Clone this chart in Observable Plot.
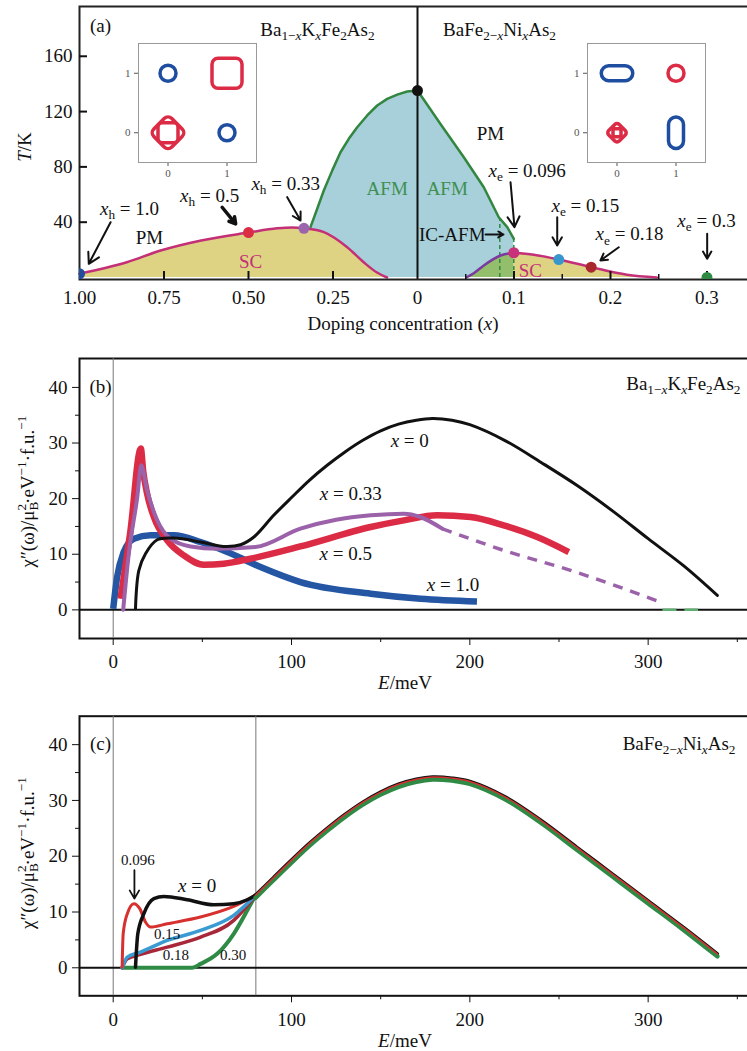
<!DOCTYPE html>
<html><head><meta charset="utf-8">
<script src="https://cdn.jsdelivr.net/npm/d3@7"></script>
<script src="https://cdn.jsdelivr.net/npm/@observablehq/plot@0.6"></script>
<style>
html,body{margin:0;padding:0;background:#fff;overflow:hidden;}
#wrap{position:relative;width:747px;height:1051px;}
</style></head><body><div id="wrap"></div>
<script>
// ---------------- Panel (a): phase diagram (hole side plotted at u = -x_h, electron side at u = x_e)
const xTicksA = [-1, -0.75, -0.5, -0.25, 0, 0.1, 0.2, 0.3];
const xTickLabelsA = ["1.00", "0.75", "0.50", "0.25", "0", "0.1", "0.2", "0.3"];
const xMajorTickMarksA = [-0.75, -0.5, -0.25, 0.1, 0.2, 0.3];
const xMinorTickMarksA = [0.05, 0.15, 0.25];
const yTicksA = [40, 80, 120, 160];

// SC dome, hole doped (x_h, T)
const scHoleX = [1.0, 0.86, 0.76, 0.64, 0.5, 0.415, 0.37, 0.336, 0.277, 0.208, 0.159, 0.12, 0.09];
const scHoleT = [2.7, 11, 19.5, 26.8, 32.5, 35.6, 36.2, 35.6, 32.8, 21.9, 11, 3.6, 0];
// AFM boundary (u, T)
const afmU = [-0.3166, -0.2967, -0.2772, -0.2524, -0.2278, -0.2033, -0.1784, -0.1488, -0.1192, -0.0896, -0.06, -0.0305, 0, 0.0238, 0.048, 0.0687, 0.0842, 0.093, 0.0998];
const afmT = [36.4, 49.7, 62.9, 77.3, 90.6, 100.3, 108.7, 117.2, 124.4, 129.2, 132.3, 134.5, 135.2, 111, 87, 65.3, 43.6, 36.4, 28];
// SC dome, electron doped (x_e, T)
const scElecX = [0.0505, 0.0583, 0.0687, 0.086, 0.0998, 0.1205, 0.1464, 0.18, 0.217, 0.248];
const scElecT = [0, 3.1, 8.7, 15.9, 17.9, 16.4, 13, 7.5, 2, 0];
// incommensurate AFM boundaries (x_e, T at top)
const icAfmX = [0.0853, 0.0998];
const icAfmTop = [42, 28];
// marked doping levels (u, T)
const dotU = [-1.0, -0.5, -0.336, 0, 0.0998, 0.1464, 0.18, 0.3];
const dotT = [2.7, 32.5, 35.6, 135.2, 17.9, 13, 7.5, 0];
const dotPalette = ["#1f4e9c", "#dc2b45", "#9b64ad", "#111111", "#c8327a", "#3796cc", "#a8282e", "#2f8a44"];

// ---------------- Panel (b): Ba1-xKxFe2As2 chi''(E)
const bBlackE = [12.5, 14.4, 18.1, 24.7, 34, 49, 62, 71.4, 78.9, 90, 100, 110, 120, 130, 140, 150, 160, 170, 179, 190, 200, 220, 240, 260, 280, 300, 320, 338.8];
const bBlackChi = [0.2, 7.1, 10.1, 12.6, 12.9, 12.2, 11.4, 11.7, 13.1, 17.0, 20.2, 23.3, 26.0, 28.4, 30.5, 32.2, 33.4, 34.1, 34.4, 34.1, 33.3, 30.4, 26.5, 22.4, 17.8, 12.8, 7.9, 2.6];
const bRedE = [4.1, 9.7, 15.5, 16.8, 19, 22.8, 30.3, 39.6, 50.8, 62, 77, 105, 144.4, 163, 181.7, 200.4, 219, 237.8, 255.5];
const bRedChi = [2, 14.3, 29, 25, 20.9, 16.7, 12.5, 9.8, 8.1, 8.3, 9.2, 11.4, 14.9, 16.1, 17, 16.7, 15.2, 13.1, 10.4];
const bPurpleE = [5.6, 8.7, 13.5, 15.7, 19, 24.7, 32.1, 43.4, 58.3, 79.8, 105, 125, 144.4, 163, 172.3, 184.5];
const bPurpleChi = [0, 10, 20.3, 26, 21.5, 16.1, 12.8, 11.4, 11, 11.3, 14.6, 16.2, 17, 17.3, 16.7, 14.6];
const bPurpleDashE = [184.5, 219, 256.5, 307];
const bPurpleDashChi = [14.6, 10.7, 7.1, 1.4];
const bBlueE = [0, 2.2, 5.9, 11.6, 20.9, 34, 49, 64, 82.6, 105, 144.4, 172.3, 204];
const bBlueChi = [0.2, 5.9, 10.4, 12.8, 13.4, 13.4, 12.2, 10.4, 7.7, 5, 2.9, 2, 1.5];
const bGreenTailE = [308, 328];
const bGreenTailChi = [0, 0];

// ---------------- Panel (c): BaFe2-xNixAs2 chi''(E)
const cCommonE = [79.8, 90, 100, 110, 120, 130, 140, 150, 160, 170, 179, 190, 200, 220, 240, 260, 280, 300, 320, 338.8];
const cCommonChi = [13, 16.2, 19.3, 22.3, 25.0, 27.5, 29.7, 31.5, 32.9, 33.8, 34.2, 34.0, 33.4, 30.6, 26.4, 21.6, 16.8, 12.0, 7.2, 2.5];
const cX0E = [12.5, 13.8, 17.2, 22.8, 28.4, 41.5, 56.4, 67.6, 75.2, 79.8];
const cX0Chi = [0.1, 6.1, 9.7, 12.4, 12.8, 12.2, 11.3, 11.5, 12.2, 13];
const c096E = [5, 5.6, 7.9, 11.6, 14.9, 18.1, 20.9, 30.3, 49, 67.6, 79.8];
const c096Chi = [0.1, 6.1, 9.7, 11.5, 10.6, 8.2, 7.3, 7.9, 9.1, 11, 13];
const c15E = [5, 7.9, 15.3, 30.3, 49, 67.6, 79.8];
const c15Chi = [0, 1.9, 2.8, 4.9, 6.7, 9.4, 13];
const c18E = [5, 7.9, 15.3, 30.3, 49, 67.6, 79.8];
const c18Chi = [0, 1.6, 2.4, 3.7, 5.5, 8.5, 13];
const c30E = [5, 44.3, 49, 58.3, 67.6, 75.2, 79.8];
const c30Chi = [0, 0, 0.7, 2.5, 6.1, 10.3, 13];

const eTicks = [0, 100, 200, 300];
const eMinor = [50, 150, 250, 350];
const chiTicks = [0, 10, 20, 30, 40];
const chiMinor = [5, 15, 25, 35];

// ---------------- Insets: Fermi-surface pockets (kx, ky, pocket size)
const insetTicks = [0, 1];
const insetHoleShapes = [
  {kx: 0, ky: 1, size: 8, shape: "circle", band: "e"},
  {kx: 1, ky: 0, size: 8, shape: "circle", band: "e"},
  {kx: 1, ky: 1, size: 15, shape: "square", band: "h"},
  {kx: 0, ky: 0, size: 10, shape: "square", band: "h"},
  {kx: 0, ky: 0, size: 18, shape: "diamond", band: "h"}
];
const insetElecShapes = [
  {kx: 0, ky: 1, size: 7.5, shape: "hstadium", band: "e"},
  {kx: 1, ky: 1, size: 8, shape: "circle", band: "h"},
  {kx: 0, ky: 0, size: 10.5, shape: "diamond", band: "h"},
  {kx: 0, ky: 0, size: 4, shape: "square", band: "h"},
  {kx: 1, ky: 0, size: 7.5, shape: "vstadium", band: "e"}
];

// ---------------- helpers
const zip = (xs, ys) => xs.map((x, i) => ({x, y: ys[i]}));
const serif = "'Liberation Serif', 'Times New Roman', serif";
const baseStyle = {fontFamily: serif, fontSize: "19px", color: "#111", background: "transparent", overflow: "hidden"};
const wrap = document.getElementById("wrap");

function richText(root) {
  root.querySelectorAll("text").forEach(t => {
    const s = t.textContent;
    if (!/[_^~]\{/.test(s)) return;
    const segs = [];
    (function parse(str, st) {
      let buf = "", i = 0;
      const flush = () => { if (buf) segs.push({text: buf, shift: st.shift, it: st.it}); buf = ""; };
      while (i < str.length) {
        const c = str[i];
        if ("_^~".includes(c) && str[i + 1] === "{") {
          let depth = 1, j = i + 2;
          while (j < str.length && depth) { if (str[j] === "{") depth++; else if (str[j] === "}") depth--; j++; }
          flush();
          parse(str.slice(i + 2, j - 1), {shift: c === "_" ? "sub" : c === "^" ? "sup" : st.shift, it: c === "~" ? true : st.it});
          i = j;
        } else { buf += str[i++]; }
      }
      flush();
    })(s, {shift: null, it: false});
    const fs = parseFloat(getComputedStyle(t).fontSize) || 19;
    while (t.firstChild) t.removeChild(t.firstChild);
    let cur = 0, prev = null, prevShift = null;
    for (const g of segs) {
      const ts = document.createElementNS("http://www.w3.org/2000/svg", "tspan");
      ts.textContent = g.text;
      const target = g.shift === "sub" ? 0.25 * fs : g.shift === "sup" ? -0.4 * fs : 0;
      if (target !== cur) { ts.setAttribute("dy", (target - cur).toFixed(2)); cur = target; }
      if (g.shift) ts.setAttribute("font-size", (0.7 * fs).toFixed(2));
      if (g.it) ts.setAttribute("font-style", "italic");
      t.appendChild(ts);
      if (g.shift === "sup" && prevShift === "sub" && prev) ts.setAttribute("dx", (-prev.getComputedTextLength()).toFixed(2));
      prev = ts; prevShift = g.shift;
    }
  });
}
function place(svg, left, top) {
  svg.style.position = "absolute";
  svg.style.left = left + "px";
  svg.style.top = top + "px";
  wrap.appendChild(svg);
  richText(svg);
}

// custom pocket symbols
const symRSquare = {draw(ctx, size) { const h = Math.sqrt(size / Math.PI), c = h * 0.4;
  ctx.moveTo(0, -h); ctx.arcTo(h, -h, h, 0, c); ctx.arcTo(h, h, 0, h, c); ctx.arcTo(-h, h, -h, 0, c); ctx.arcTo(-h, -h, 0, -h, c); ctx.closePath(); }};
const symRDiamond = {draw(ctx, size) { const h = Math.sqrt(size / Math.PI), c = h * 0.3;
  ctx.moveTo(h / 2, -h / 2); ctx.arcTo(h, 0, h / 2, h / 2, c); ctx.arcTo(0, h, -h / 2, h / 2, c); ctx.arcTo(-h, 0, -h / 2, -h / 2, c); ctx.arcTo(0, -h, h / 2, -h / 2, c); ctx.closePath(); }};
const symHStadium = {draw(ctx, size) { const r = Math.sqrt(size / Math.PI), w = 2.1 * r;
  ctx.moveTo(-w + r, -r); ctx.lineTo(w - r, -r); ctx.arc(w - r, 0, r, -Math.PI / 2, Math.PI / 2); ctx.lineTo(-w + r, r); ctx.arc(-w + r, 0, r, Math.PI / 2, 3 * Math.PI / 2); ctx.closePath(); }};
const symVStadium = {draw(ctx, size) { const r = Math.sqrt(size / Math.PI), w = 2.1 * r;
  ctx.moveTo(r, -w + r); ctx.lineTo(r, w - r); ctx.arc(0, w - r, r, 0, Math.PI); ctx.lineTo(-r, -w + r); ctx.arc(0, -w + r, r, Math.PI, 2 * Math.PI); ctx.closePath(); }};
const symbolOf = {circle: "circle", square: symRSquare, diamond: symRDiamond, hstadium: symHStadium, vstadium: symVStadium};
const bandColor = {e: "#1f4ea0", h: "#dc2b45"};

// ================= Panel (a)
const afm = zip(afmU, afmT);
const scHole = zip(scHoleX.map(v => -v), scHoleT);
const scElec = zip(scElecX, scElecT);
const scElecAfm = scElec.filter(d => d.x <= 0.0998);
const scElecPm = scElec.filter(d => d.x >= 0.0998);
const icAfm = icAfmX.map((x, i) => ({x, top: icAfmTop[i]}));
const dotsA = zip(dotU, dotT);
const tickLabelA = new Map(xTicksA.map((d, i) => [d, xTickLabelsA[i]]));

const annA = [
  {x: -0.296, y: 179.3, text: "Ba_{1−~{x}}K_{~{x}}Fe_{2}As_{2}"},
  {x: 0.085, y: 179.3, text: "BaFe_{2−~{x}}Ni_{~{x}}As_{2}"},
  {x: -0.793, y: 28.9, text: "PM"},
  {x: 0.0756, y: 104.1, text: "PM"},
  {x: -0.852, y: 49.9, text: "~{x}_{h} = 1.0"},
  {x: -0.615, y: 59.3, text: "~{x}_{h} = 0.5"},
  {x: -0.39, y: 68, text: "~{x}_{h} = 0.33"},
  {x: 0.1137, y: 77.4, text: "~{x}_{e} = 0.096"},
  {x: 0.174, y: 52.1, text: "~{x}_{e} = 0.15"},
  {x: 0.2197, y: 31.6, text: "~{x}_{e} = 0.18"},
  {x: 0.2995, y: 41.2, text: "~{x}_{e} = 0.3"}
];
const annASC = [{x: -0.494, y: 11.6, text: "SC"}, {x: 0.117, y: 5.1, text: "SC"}];
const annAAFM = [{x: -0.0897, y: 64.1, text: "AFM"}, {x: 0.0308, y: 64.1, text: "AFM"}];
const annAIC = [{x: 0.0705, y: 31.1, text: "IC-AFM"}];
const arrowsA = [
  {x1: -0.908, y1: 40, x2: -0.9725, y2: 9.9},
  {x1: -0.3855, y1: 58.1, x2: -0.346, y2: 41.2},
  {x1: 0.0964, y1: 68.9, x2: 0.1005, y2: 36.4},
  {x1: 0.1448, y1: 43.6, x2: 0.1448, y2: 23.1},
  {x1: 0.2086, y1: 21.9, x2: 0.1896, y2: 12.3},
  {x1: 0.3002, y1: 31.6, x2: 0.3002, y2: 13.5},
  {x1: 0.0705, y1: 31.1, x2: 0.0891, y2: 31.1}
];
const arrowsAThick = [{x1: -0.578, y1: 50.8, x2: -0.538, y2: 38.8}];

const plotWA = 671, plotHA = 273;
const plotA = Plot.plot({
  width: 747, height: 340,
  marginLeft: 79, marginRight: -3, marginTop: 6, marginBottom: 61,
  style: baseStyle,
  x: {type: "linear", domain: [-1, 0, 0.3451], range: [79, 417, 750], ticks: xTicksA, tickFormat: d => tickLabelA.get(d), tickSize: 0, tickPadding: 11, label: null},
  y: {domain: [-1.45, 196], ticks: yTicksA, tickSize: 0, tickPadding: 7, label: null},
  marks: [
    Plot.areaY(afm, {x: "x", y: "y", fill: "#a7d0db"}),
    Plot.areaY(scHole, {x: "x", y: "y", fill: "#ddd382", curve: "monotone-x"}),
    Plot.areaY(scElecAfm, {x: "x", y: "y", fill: "#93bf6c", curve: "monotone-x"}),
    Plot.areaY(scElecPm, {x: "x", y: "y", fill: "#ddd382", curve: "monotone-x"}),
    Plot.ruleX(icAfm, {x: "x", y1: 0, y2: "top", stroke: "#2f8a3f", strokeWidth: 1.5, strokeDasharray: "4,3"}),
    Plot.line(afm, {x: "x", y: "y", stroke: "#33863f", strokeWidth: 2.5}),
    Plot.line(scHole, {x: "x", y: "y", stroke: "#c43078", strokeWidth: 2.5, curve: "monotone-x"}),
    Plot.line(scElecAfm, {x: "x", y: "y", stroke: "#7b3a9e", strokeWidth: 2.5, curve: "monotone-x"}),
    Plot.line(scElecPm, {x: "x", y: "y", stroke: "#c43078", strokeWidth: 2.5, curve: "monotone-x"}),
    Plot.ruleX([0], {stroke: "#111", strokeWidth: 2}),
    Plot.frame({stroke: "#222", strokeWidth: 2}),
    Plot.ruleY(yTicksA, {insetRight: plotWA - 8, stroke: "#111", strokeWidth: 2}),
    Plot.ruleX(xMajorTickMarksA, {insetTop: plotHA - 8, stroke: "#111", strokeWidth: 2}),
    Plot.ruleX(xMinorTickMarksA, {insetTop: plotHA - 5, stroke: "#111", strokeWidth: 1.5}),
    Plot.dot(dotsA, {x: "x", y: "y", r: 5.5, fill: (d, i) => dotPalette[i], clip: true}),
    Plot.arrow(arrowsA, {x1: "x1", y1: "y1", x2: "x2", y2: "y2", stroke: "#111", strokeWidth: 2, headLength: 9}),
    Plot.arrow(arrowsAThick, {x1: "x1", y1: "y1", x2: "x2", y2: "y2", stroke: "#111", strokeWidth: 3.5, headLength: 9}),
    Plot.text(annA, {x: "x", y: "y", text: "text", fontSize: 19}),
    Plot.text(annASC, {x: "x", y: "y", text: "text", fontSize: 19, fill: "#c43078"}),
    Plot.text(annAAFM, {x: "x", y: "y", text: "text", fontSize: 19, fill: "#3f8f4f"}),
    Plot.text(annAIC, {x: "x", y: "y", text: "text", fontSize: 19, textAnchor: "end"}),
    Plot.text(["(a)"], {text: d => d, frameAnchor: "top-left", dx: 21, dy: 19, textAnchor: "middle", lineAnchor: "middle", fontSize: 19}),
    Plot.text(["~{T}/K"], {text: d => d, frameAnchor: "left", dx: -55, dy: 4, rotate: -90, textAnchor: "middle", lineAnchor: "middle", fontSize: 19}),
    Plot.text(["Doping concentration (~{x})"], {text: d => d, frameAnchor: "bottom", dx: -12, dy: 44, textAnchor: "middle", lineAnchor: "middle", fontSize: 19})
  ]
});
place(plotA, 0, 0);

function inset(shapes) {
  const groups = Object.keys(symbolOf).map(k => shapes.filter(d => d.shape === k)).filter(g => g.length);
  return Plot.plot({
    width: 170, height: 160, marginLeft: 40, marginRight: 12, marginTop: 20, marginBottom: 21,
    style: {fontFamily: serif, fontSize: "11px", color: "#555", background: "transparent", overflow: "hidden"},
    x: {domain: [-0.5, 1.5], ticks: insetTicks, tickFormat: d => String(d), tickSize: 4, tickPadding: 3, label: null},
    y: {domain: [-0.5, 1.5], ticks: insetTicks, tickFormat: d => String(d), tickSize: 4, tickPadding: 4, label: null},
    r: {type: "identity"},
    marks: [
      Plot.frame({fill: "white", stroke: "#999", strokeWidth: 1}),
      ...groups.map(g => Plot.dot(g, {x: "kx", y: "ky", r: "size", symbol: symbolOf[g[0].shape], fill: "none", stroke: d => bandColor[d.band], strokeWidth: 3.5}))
    ]
  });
}
place(inset(insetHoleShapes), 98, 23);
place(inset(insetElecShapes), 547, 23);

// ================= Panel (b)
const yLabel = "χ″(ω)/μ_{B}^{2}·eV^{−1}·f.u.^{−1}";
const plotWB = 671, plotHB = 280;
const plotB = Plot.plot({
  width: 747, height: 362,
  marginLeft: 79, marginRight: -3, marginTop: 18, marginBottom: 64,
  style: baseStyle,
  x: {domain: [-18.9, 357.4], ticks: eTicks, tickSize: 7, tickPadding: 9, label: null},
  y: {domain: [-5.15, 45.2], ticks: chiTicks, tickSize: 7, tickPadding: 5, label: null},
  marks: [
    Plot.frame({stroke: "#111", strokeWidth: 2}),
    Plot.ruleX([0], {stroke: "#777", strokeWidth: 1}),
    Plot.ruleY([0], {stroke: "#111", strokeWidth: 2}),
    Plot.ruleX(eMinor, {insetTop: plotHB, insetBottom: -4, stroke: "#111"}),
    Plot.ruleY(chiMinor, {insetLeft: -4, insetRight: plotWB, stroke: "#111"}),
    Plot.line(zip(bBlueE, bBlueChi), {x: "x", y: "y", stroke: "#2456a4", strokeWidth: 6.5, curve: "monotone-x", strokeLinecap: "butt"}),
    Plot.line(zip(bRedE, bRedChi), {x: "x", y: "y", stroke: "#dc2b45", strokeWidth: 6.5, curve: "monotone-x", strokeLinecap: "butt"}),
    Plot.line(zip(bPurpleE, bPurpleChi), {x: "x", y: "y", stroke: "#9b62aa", strokeWidth: 4, curve: "monotone-x"}),
    Plot.line(zip(bPurpleDashE, bPurpleDashChi), {x: "x", y: "y", stroke: "#9b62aa", strokeWidth: 3.5, strokeDasharray: "10,8", curve: "monotone-x", strokeLinecap: "butt"}),
    Plot.line(zip(bGreenTailE, bGreenTailChi), {x: "x", y: "y", stroke: "#5fae72", strokeWidth: 2.5, strokeDasharray: "14,8", strokeLinecap: "butt"}),
    Plot.line(zip(bBlackE, bBlackChi), {x: "x", y: "y", stroke: "#111", strokeWidth: 3, curve: "catmull-rom"}),
    Plot.text([
      {x: 166.3, y: 30.3, text: "~{x} = 0"},
      {x: 133.2, y: 20.9, text: "~{x} = 0.33"},
      {x: 130.4, y: 10.1, text: "~{x} = 0.5"},
      {x: 190.6, y: 4.4, text: "~{x} = 1.0"}
    ], {x: "x", y: "y", text: "text", fontSize: 19}),
    Plot.text([{x: 351.8, y: 40.7, text: "Ba_{1−~{x}}K_{~{x}}Fe_{2}As_{2}"}], {x: "x", y: "y", text: "text", textAnchor: "end", fontSize: 19}),
    Plot.text(["(b)"], {text: d => d, frameAnchor: "top-left", dx: 21, dy: 28, textAnchor: "middle", lineAnchor: "middle", fontSize: 19}),
    Plot.text([yLabel], {text: d => d, frameAnchor: "left", dx: -52, dy: -7, rotate: -90, textAnchor: "middle", lineAnchor: "middle", fontSize: 19}),
    Plot.text(["~{E}/meV"], {text: d => d, frameAnchor: "bottom", dx: -10, dy: 44, textAnchor: "middle", lineAnchor: "middle", fontSize: 19})
  ]
});
place(plotB, 0, 340);

// ================= Panel (c)
const plotWC = 671, plotHC = 279.6;
const commonC = zip(cCommonE, cCommonChi);
const plotC = Plot.plot({
  width: 747, height: 361,
  marginLeft: 79, marginRight: -3, marginTop: 25.7, marginBottom: 55.7,
  style: baseStyle,
  x: {domain: [-18.9, 357.4], ticks: eTicks, tickSize: 7, tickPadding: 10, label: null},
  y: {domain: [-5.02, 45.1], ticks: chiTicks, tickSize: 7, tickPadding: 5, label: null},
  marks: [
    Plot.frame({stroke: "#111", strokeWidth: 2}),
    Plot.ruleX([0, 80], {stroke: "#777", strokeWidth: 1}),
    Plot.ruleY([0], {stroke: "#111", strokeWidth: 2}),
    Plot.ruleX(eMinor, {insetTop: plotHC, insetBottom: -4, stroke: "#111"}),
    Plot.ruleY(chiMinor, {insetLeft: -4, insetRight: plotWC, stroke: "#111"}),
    Plot.line(zip(c30E, c30Chi), {x: "x", y: "y", stroke: "#2e8a45", strokeWidth: 4, curve: "monotone-x"}),
    Plot.line(zip(c18E, c18Chi), {x: "x", y: "y", stroke: "#a8283a", strokeWidth: 3.5, curve: "monotone-x"}),
    Plot.line(zip(c15E, c15Chi), {x: "x", y: "y", stroke: "#3a9ad2", strokeWidth: 3.5, curve: "monotone-x"}),
    Plot.line(zip(c096E, c096Chi), {x: "x", y: "y", stroke: "#d6302f", strokeWidth: 3, curve: "monotone-x"}),
    Plot.line(zip(cX0E, cX0Chi), {x: "x", y: "y", stroke: "#111", strokeWidth: 3.5, curve: "monotone-x"}),
    Plot.line(commonC, {x: "x", y: "y", stroke: "#111", strokeWidth: 3.5, curve: "catmull-rom"}),
    Plot.line(commonC, {x: "x", y: "y", stroke: "#2e8a45", strokeWidth: 4.5, dy: 2.5, curve: "catmull-rom"}),
    Plot.line(commonC, {x: "x", y: "y", stroke: "#d6302f", strokeWidth: 1.5, curve: "catmull-rom"}),
    Plot.arrow([{x1: 11.9, y1: 17.5, x2: 11.9, y2: 12.4}], {x1: "x1", y1: "y1", x2: "x2", y2: "y2", stroke: "#111", strokeWidth: 1.8, headLength: 8}),
    Plot.text([{x: 47.1, y: 14.6, text: "~{x} = 0"}], {x: "x", y: "y", text: "text", fontSize: 19}),
    Plot.text([
      {x: 13.9, y: 19.3, text: "0.096"},
      {x: 30.3, y: 6, text: "0.15"},
      {x: 35.2, y: 2.2, text: "0.18"},
      {x: 67.2, y: 2.2, text: "0.30"}
    ], {x: "x", y: "y", text: "text", fontSize: 15}),
    Plot.text([{x: 349, y: 40.2, text: "BaFe_{2−~{x}}Ni_{~{x}}As_{2}"}], {x: "x", y: "y", text: "text", textAnchor: "end", fontSize: 19}),
    Plot.text(["(c)"], {text: d => d, frameAnchor: "top-left", dx: 21, dy: 28, textAnchor: "middle", lineAnchor: "middle", fontSize: 19}),
    Plot.text([yLabel], {text: d => d, frameAnchor: "left", dx: -52, dy: -3, rotate: -90, textAnchor: "middle", lineAnchor: "middle", fontSize: 19}),
    Plot.text(["~{E}/meV"], {text: d => d, frameAnchor: "bottom", dx: -10, dy: 45, textAnchor: "middle", lineAnchor: "middle", fontSize: 19})
  ]
});
place(plotC, 0, 690);
</script></body></html>
